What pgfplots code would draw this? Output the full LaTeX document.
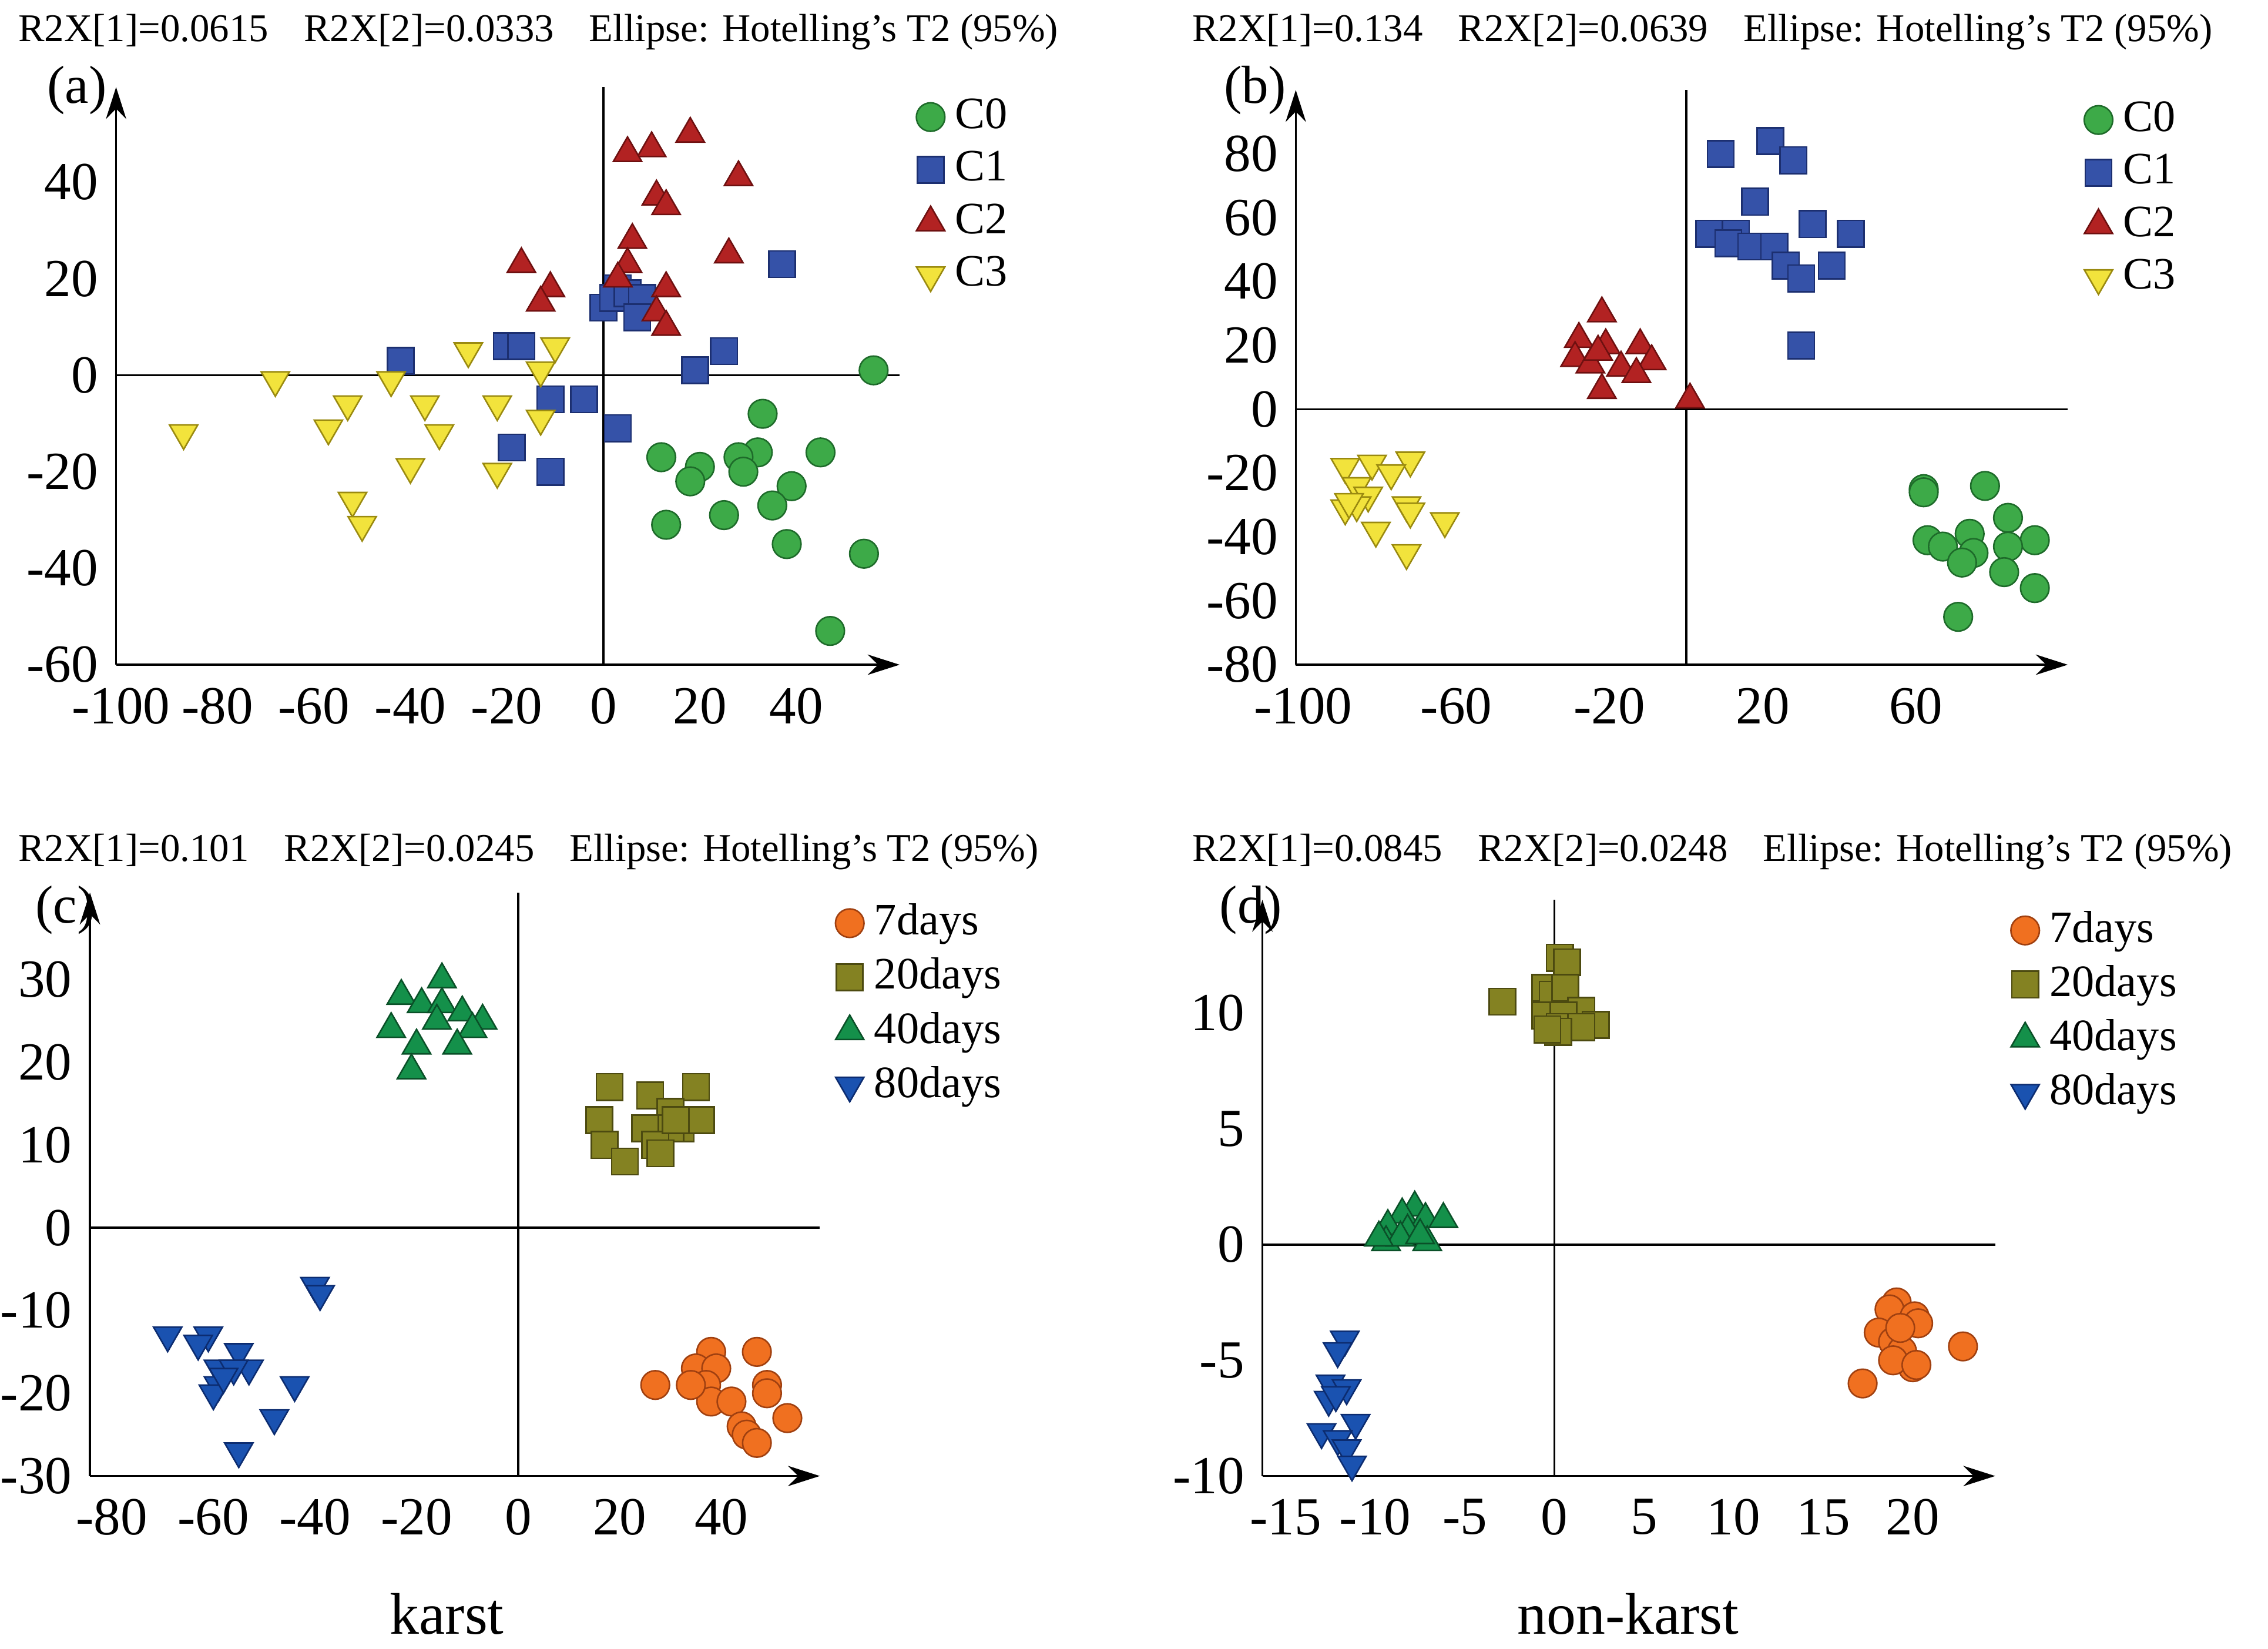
\documentclass[border=0pt]{standalone}
\usepackage{pgfplots}
\pgfplotsset{compat=1.18}
\usepackage{fontspec}
\setmainfont{Liberation Serif}
\usetikzlibrary{arrows.meta}
\definecolor{cg}{HTML}{3DAA48}\definecolor{cgd}{HTML}{1E6B2A}
\definecolor{cb}{HTML}{3552A8}\definecolor{cbd}{HTML}{1C2F70}
\definecolor{cr}{HTML}{B22222}\definecolor{crd}{HTML}{6E1010}
\definecolor{cy}{HTML}{F2E33C}\definecolor{cyd}{HTML}{9A8A10}
\definecolor{co}{HTML}{F07020}\definecolor{cod}{HTML}{A04010}
\definecolor{cl}{HTML}{848222}\definecolor{cld}{HTML}{4C4A10}
\definecolor{cn}{HTML}{14904A}\definecolor{cnd}{HTML}{0A5028}
\definecolor{cu}{HTML}{1A52B0}\definecolor{cud}{HTML}{0C2C70}
\pgfplotsset{
 pan/.style={scale only axis, anchor=south west,
  axis x line=bottom, axis y line=left,
  x axis line style={-{Stealth[length=2.2mm,width=1.4mm]}},
  y axis line style={-{Stealth[length=2.2mm,width=1.4mm]}},
  major tick length=0pt,
  tick label style={font=\fontsize{10.5}{12}\selectfont},
  /pgf/number format/assume math mode=true,
  xticklabel style={yshift=-1pt},
  clip=false,
  legend style={draw=none,fill=none,font=\fontsize{8.8}{10}\selectfont,
    at={(1.02,1.0)},anchor=north west,row sep=-1pt,inner sep=0pt},
  legend cell align=left},
 sA/.style={only marks,mark=*,mark size=2.8pt,mark options={fill=cg,draw=cgd,line width=0.3pt}},
 sB/.style={only marks,mark=square*,mark size=2.6pt,mark options={fill=cb,draw=cbd,line width=0.3pt}},
 sC/.style={only marks,mark=triangle*,mark size=3.2pt,mark options={fill=cr,draw=crd,line width=0.3pt}},
 sD/.style={only marks,mark=triangle*,mark size=3.2pt,mark options={rotate=180,fill=cy,draw=cyd,line width=0.3pt}},
 tA/.style={only marks,mark=*,mark size=2.8pt,mark options={fill=co,draw=cod,line width=0.3pt}},
 tB/.style={only marks,mark=square*,mark size=2.6pt,mark options={fill=cl,draw=cld,line width=0.3pt}},
 tC/.style={only marks,mark=triangle*,mark size=3.2pt,mark options={fill=cn,draw=cnd,line width=0.3pt}},
 tD/.style={only marks,mark=triangle*,mark size=3.2pt,mark options={rotate=180,fill=cu,draw=cud,line width=0.3pt}},
}
\begin{document}
\begin{tikzpicture}
\path[use as bounding box] (0,0) rectangle (15.63,-11.36);
\tikzset{hdr/.style={anchor=west,font=\fontsize{7.7}{9}\selectfont,inner sep=0pt}}
\node[hdr] at (0.12,-0.22) {R2X[1]=0.0615\hspace{0.9em}R2X[2]=0.0333\hspace{0.9em}Ellipse: Hotelling's T2 (95\%)};
\node[hdr] at (8.21,-0.22) {R2X[1]=0.134\hspace{0.9em}R2X[2]=0.0639\hspace{0.9em}Ellipse: Hotelling's T2 (95\%)};
\node[hdr] at (0.12,-5.87) {R2X[1]=0.101\hspace{0.9em}R2X[2]=0.0245\hspace{0.9em}Ellipse: Hotelling's T2 (95\%)};
\node[hdr] at (8.21,-5.87) {R2X[1]=0.0845\hspace{0.9em}R2X[2]=0.0248\hspace{0.9em}Ellipse: Hotelling's T2 (95\%)};
\tikzset{pl/.style={font=\fontsize{10.5}{12}\selectfont,inner sep=0pt}}
\node[pl] at (0.53,-0.62) {(a)};
\node[pl] at (8.65,-0.62) {(b)};
\node[pl] at (0.45,-6.27) {(c)};
\node[pl] at (8.62,-6.27) {(d)};
\node[font=\fontsize{11.5}{14}\selectfont] at (3.08,-11.12) {karst};
\node[font=\fontsize{11.5}{14}\selectfont] at (11.22,-11.12) {non-karst};

% (a)
\begin{axis}[pan, at={(0.80cm,-4.58cm)}, width=5.4cm, height=3.98cm,
  xmin=-101, xmax=61.4, ymin=-60, ymax=59.7,
  xtick={-100,-80,-60,-40,-20,0,20,40}, ytick={-60,-40,-20,0,20,40}]
\addplot[sA] coordinates {(56,1)(33,-8)(45,-16)(32,-16)(28,-17)(29,-20)(20,-19)(12,-17)(18,-22)(39,-23)(35,-27)(25,-29)(13,-31)(38,-35)(54,-37)(47,-53)};
\addplot[sB] coordinates {(37,23)(3,18)(0,14)(2,16)(5,17)(8,16)(7,12)(-20,6)(-17,6)(-42,3)(-11,-5)(-4,-5)(25,5)(19,1)(3,-11)(-19,-15)(-11,-20)};
\addplot[sC] coordinates {(10,47)(5,46)(18,50)(28,41)(11,37)(13,35)(6,28)(26,25)(5,23)(-17,23)(-11,18)(13,18)(3,20)(-13,15)(11,13)(13,10)};
\addplot[sD] coordinates {(-87,-12)(-68,-1)(-53,-6)(-57,-11)(-44,-1)(-37,-6)(-34,-12)(-28,5)(-22,-6)(-10,6)(-13,1)(-13,-9)(-40,-19)(-22,-20)(-52,-26)(-50,-31)};
\legend{C0,C1,C2,C3}
\addplot[black,forget plot] coordinates {(-101,0)(61.4,0)};
\addplot[black,forget plot] coordinates {(0,-60)(0,59.7)};
\end{axis}

% (b)
\begin{axis}[pan, at={(8.93cm,-4.58cm)}, width=5.32cm, height=3.96cm,
  xmin=-101.9, xmax=99.6, ymin=-80, ymax=100,
  xtick={-100,-60,-20,20,60}, ytick={-80,-60,-40,-20,0,20,40,60,80}]
\addplot[sA] coordinates {(62,-25)(78,-24)(84,-34)(74,-39)(63,-41)(67,-43)(75,-45)(91,-41)(84,-43)(72,-48)(83,-51)(91,-56)(71,-65)(62,-26)};
\addplot[sB] coordinates {(9,80)(22,84)(28,78)(18,65)(33,58)(43,55)(6,55)(13,55)(11,52)(17,51)(23,51)(26,45)(38,45)(30,41)(30,20)};
\addplot[sC] coordinates {(-22,30)(-28,22)(-21,20)(-12,20)(-29,16)(-25,14)(-17,13)(-9,15)(-13,11)(-22,6)(1,3)(-23,18)};
\addplot[sD] coordinates {(-89,-18)(-82,-17)(-72,-16)(-77,-20)(-86,-24)(-83,-27)(-89,-31)(-86,-30)(-73,-30)(-72,-32)(-63,-35)(-81,-38)(-73,-45)(-88,-29)};
\legend{C0,C1,C2,C3}
\addplot[black,forget plot] coordinates {(-101.9,0)(99.6,0)};
\addplot[black,forget plot] coordinates {(0,-80)(0,100)};
\end{axis}

% (c)
\begin{axis}[pan, at={(0.62cm,-10.17cm)}, width=5.03cm, height=4.02cm,
  xmin=-84.3, xmax=59.4, ymin=-30, ymax=40.5,
  xtick={-80,-60,-40,-20,0,20,40}, ytick={-30,-20,-10,0,10,20,30}]
\addplot[tA] coordinates {(38,-15)(47,-15)(35,-17)(39,-17)(27,-19)(37,-19)(49,-19)(49,-20)(38,-21)(42,-21)(53,-23)(44,-24)(45,-25)(47,-26)(34,-19)};
\addplot[tB] coordinates {(18,17)(26,16)(35,17)(30,14)(16,13)(32,12)(36,13)(30,12)(25,12)(27,10)(17,10)(21,8)(28,9)(31,13)};
\addplot[tC] coordinates {(-15,30)(-23,28)(-19,27)(-15,27)(-11,26)(-16,25)(-7,25)(-25,24)(-9,24)(-20,22)(-12,22)(-21,19)};
\addplot[tD] coordinates {(-40,-7)(-39,-8)(-69,-13)(-61,-13)(-63,-14)(-55,-15)(-59,-17)(-53,-17)(-56,-17)(-44,-19)(-59,-19)(-60,-20)(-48,-23)(-55,-27)(-58,-18)};
\legend{7days,20days,40days,80days}
\addplot[black,forget plot] coordinates {(-84.3,0)(59.4,0)};
\addplot[black,forget plot] coordinates {(0,-30)(0,40.5)};
\end{axis}

% (d)
\begin{axis}[pan, at={(8.70cm,-10.17cm)}, width=5.05cm, height=3.97cm,
  xmin=-16.3, xmax=24.6, ymin=-10, ymax=14.9,
  xtick={-15,-10,-5,0,5,10,15,20}, ytick={-10,-5,0,5,10}]
\addplot[tA] coordinates {(19.1,-2.5)(18.7,-2.8)(20.1,-3.1)(20.3,-3.4)(18.1,-3.8)(18.9,-4.2)(22.8,-4.4)(19.4,-4.6)(17.2,-6.0)(20.0,-5.3)(18.9,-5.0)(20.2,-5.2)(19.3,-3.6)};
\addplot[tB] coordinates {(0.3,12.4)(0.7,12.2)(-0.5,11.1)(-2.9,10.5)(-0.1,10.8)(0.6,11.1)(1.5,10.1)(-0.5,9.9)(0.5,9.9)(2.3,9.5)(0.3,9.4)(1.5,9.4)(0.2,9.2)(-0.4,9.3)};
\addplot[tC] coordinates {(-7.8,1.6)(-8.5,1.3)(-7.2,1.1)(-6.2,1.1)(-9.3,0.8)(-8.2,0.6)(-9.4,0.1)(-7.1,0.1)(-8.6,0.3)(-7.5,0.4)(-9.8,0.3)};
\addplot[tD] coordinates {(-11.7,-4.1)(-12.1,-4.6)(-12.5,-6.0)(-11.6,-6.2)(-12.6,-6.7)(-11.1,-7.7)(-13.0,-8.1)(-12.1,-8.4)(-11.6,-8.8)(-11.3,-9.5)(-12.2,-6.5)};
\legend{7days,20days,40days,80days}
\addplot[black,forget plot] coordinates {(-16.3,0)(24.6,0)};
\addplot[black,forget plot] coordinates {(0,-10)(0,14.9)};
\end{axis}
\end{tikzpicture}
\end{document}
